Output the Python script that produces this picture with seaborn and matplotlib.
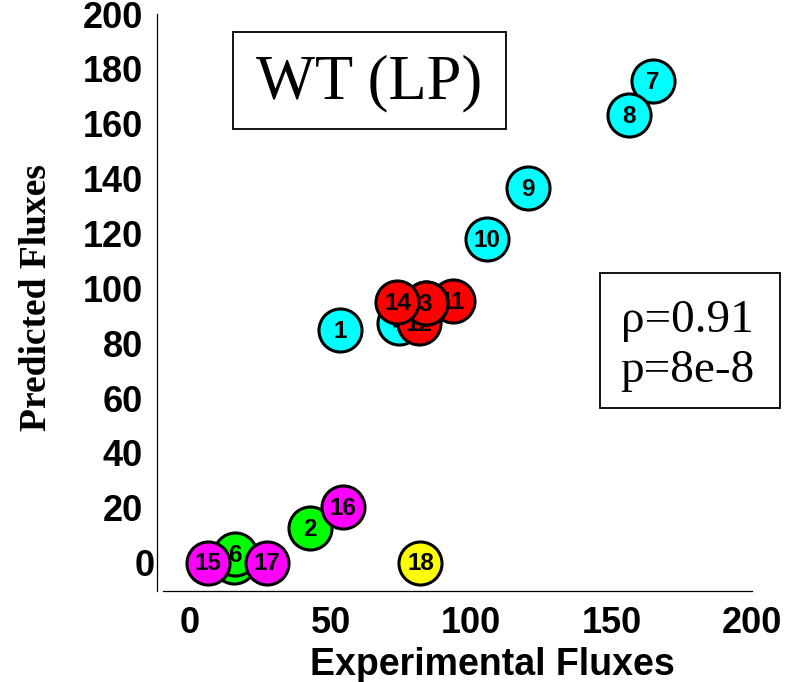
import matplotlib
matplotlib.use("Agg")
import matplotlib.pyplot as plt
import seaborn as sns
import pandas as pd
from matplotlib.patches import Rectangle
from matplotlib.transforms import ScaledTranslation

# ---- data ----
ids = list(range(1, 19))
exp_flux = [53.5, 42.8, 83.8, 74.5, 15.7, 16.0, 164.7, 156.1, 120.1, 105.5,
            93.4, 81.3, 83.8, 73.8, 6.4, 54.5, 27.5, 82.0]
pred_flux = [84.8, 12.6, 94.7, 87.4, 0.3, 3.2, 175.6, 163.2, 136.6, 118.0,
             95.4, 87.4, 94.7, 95.0, 0.0, 20.3, 0.0, 0.0]
groups = ["cyan", "green", "red", "cyan", "green", "green", "cyan", "cyan", "cyan",
          "cyan", "red", "red", "red", "red", "magenta", "magenta", "magenta", "yellow"]
palette = {"cyan": "#00FFFF", "green": "#00FF00", "red": "#FF0000",
           "magenta": "#FF00FF", "yellow": "#FFFF00"}
draw_order = [1, 2, 7, 8, 9, 10, 4, 12, 11, 13, 3, 14, 5, 6, 15, 17, 16, 18]
x_ticks = [0, 50, 100, 150, 200]
y_ticks = [0, 20, 40, 60, 80, 100, 120, 140, 160, 180, 200]
title_text = "WT (LP)"
stat_lines = ["\u03c1=0.91", "p=8e-8"]

df = pd.DataFrame({"id": ids, "exp": exp_flux, "pred": pred_flux, "group": groups})

sns.set_style("white")
plt.rcParams["font.family"] = ["Liberation Sans", "DejaVu Sans"]
plt.rcParams["text.color"] = "black"
plt.rcParams["axes.labelcolor"] = "black"
plt.rcParams["xtick.color"] = "black"
plt.rcParams["ytick.color"] = "black"

W, H = 787, 682
fig = plt.figure(figsize=(W / 100, H / 100), dpi=100)
ax = fig.add_axes([156.7 / W, 1 - 591 / H, (752 - 156.7) / W, (591 - 14) / H])

for z, pid in enumerate(draw_order):
    sub = df[df["id"] == pid]
    sns.scatterplot(data=sub, x="exp", y="pred", hue="group", palette=palette,
                    s=961, edgecolor="black", linewidth=2.2, legend=False,
                    ax=ax, zorder=3 + 2 * z, clip_on=False)
    ax.text(sub["exp"].iloc[0], sub["pred"].iloc[0] - 0.4, str(pid), ha="center",
            va="center", fontsize=17.5, fontweight="bold", color="black",
            zorder=4 + 2 * z, family=["Liberation Sans", "DejaVu Sans"])

ax.set_xlim(-11.9, 200)
ax.set_ylim(-10.3, 200)
ax.set_xticks(x_ticks)
ax.set_yticks(y_ticks)
ax.set_xticklabels([str(t) for t in x_ticks])
ax.set_yticklabels([str(t) for t in y_ticks])
ax.tick_params(axis="both", direction="in", length=5, width=1, color="black",
               labelcolor="black", labelsize=26)
ax.tick_params(axis="x", pad=11)
ax.tick_params(axis="y", pad=10)
for lbl in ax.get_xticklabels() + ax.get_yticklabels():
    lbl.set_fontweight("bold")

for s in ["top", "right"]:
    ax.spines[s].set_visible(False)
for s in ["left", "bottom"]:
    ax.spines[s].set_color("black")
    ax.spines[s].set_linewidth(0.9)
ax.spines["bottom"].set_bounds(-9.7, 200)

# quirk: the y "0" label sits closer to the axis
ylbls = ax.get_yticklabels()
ylbls[0].set_transform(ylbls[0].get_transform() + ScaledTranslation(0.12, 0, fig.dpi_scale_trans))

ax.set_xlabel("Experimental Fluxes", fontsize=27, fontweight="bold", color="black")
ax.xaxis.label.set_va("baseline")
ax.xaxis.set_label_coords((492 - 156.7) / (752 - 156.7), (591 - 675) / 577)

ax.set_ylabel("Predicted Fluxes", fontsize=27, fontweight="bold", color="black",
              family=["Liberation Serif", "DejaVu Serif"])
ax.yaxis.label.set_va("center")
ax.yaxis.label.set_ha("center")
ax.yaxis.set_label_coords((37 - 156.7) / (752 - 156.7), (591 - 298) / 577)

# title box
fig.patches.append(Rectangle((233 / W, 1 - 129 / H), (506 - 233) / W, (129 - 32) / H,
                             transform=fig.transFigure, facecolor="white",
                             edgecolor="black", linewidth=1.3, zorder=50))
fig.text(369.5 / W, 1 - 98.3 / H, title_text, ha="center", va="baseline",
         fontsize=45, color="black", family=["Liberation Serif", "DejaVu Serif"], zorder=51)

# stats box
fig.patches.append(Rectangle((600 / W, 1 - 408 / H), (780 - 600) / W, (408 - 273) / H,
                             transform=fig.transFigure, facecolor="white",
                             edgecolor="black", linewidth=1.3, zorder=50))
fig.text(687 / W, 1 - 331.7 / H, stat_lines[0], ha="center", va="baseline",
         fontsize=34, color="black", family=["Liberation Serif", "DejaVu Serif"], zorder=51)
fig.text(687 / W, 1 - 381.7 / H, stat_lines[1], ha="center", va="baseline",
         fontsize=34, color="black", family=["Liberation Serif", "DejaVu Serif"], zorder=51)

fig.savefig("out.png", dpi=100)
